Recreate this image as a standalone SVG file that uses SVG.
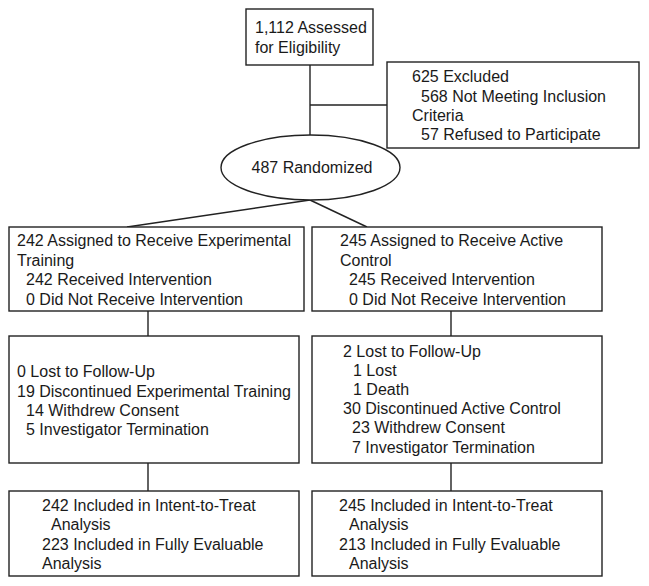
<svg xmlns="http://www.w3.org/2000/svg" width="649" height="586" viewBox="0 0 649 586">
<style>
.box{fill:#fff;stroke:#222;stroke-width:1.4}
.ln{fill:none;stroke:#222;stroke-width:1.4}
text{font-family:"Liberation Sans",Arial,sans-serif;font-size:16px;fill:#1a1a1a}
</style>
<rect width="649" height="586" fill="#fff"/>
<g id="connectors">
<line class="ln" x1="310" y1="65" x2="310" y2="135"/>
<line class="ln" x1="310" y1="105" x2="387" y2="105"/>
<line class="ln" x1="310" y1="200" x2="127" y2="227"/>
<line class="ln" x1="310" y1="200" x2="367" y2="227"/>
<line class="ln" x1="148" y1="311" x2="148" y2="336"/>
<line class="ln" x1="451" y1="311" x2="451" y2="336"/>
<line class="ln" x1="148" y1="463" x2="148" y2="491"/>
<line class="ln" x1="451" y1="463" x2="451" y2="491"/>
</g>
<g id="assessed">
<rect class="box" x="246" y="9" width="127" height="56"/>
<text x="255" y="33">1,112 Assessed</text>
<text x="255" y="53">for Eligibility</text>
</g>
<g id="excluded">
<rect class="box" x="387" y="62" width="252" height="86"/>
<text x="412" y="82">625 Excluded</text>
<text x="421" y="102">568 Not Meeting Inclusion</text>
<text x="412" y="121">Criteria</text>
<text x="421" y="140">57 Refused to Participate</text>
</g>
<g id="randomized">
<ellipse class="box" cx="310.5" cy="167.5" rx="89.5" ry="32.5"/>
<text x="312" y="173" text-anchor="middle">487 Randomized</text>
</g>
<g id="assigned-exp">
<rect class="box" x="9" y="227" width="295" height="84"/>
<text x="17" y="246">242 Assigned to Receive Experimental</text>
<text x="17" y="266">Training</text>
<text x="26" y="285">242 Received Intervention</text>
<text x="26" y="305">0 Did Not Receive Intervention</text>
</g>
<g id="assigned-ctrl">
<rect class="box" x="312" y="227" width="290" height="84"/>
<text x="340" y="246">245 Assigned to Receive Active</text>
<text x="340" y="266">Control</text>
<text x="349" y="285">245 Received Intervention</text>
<text x="349" y="305">0 Did Not Receive Intervention</text>
</g>
<g id="followup-exp">
<rect class="box" x="9" y="336" width="290" height="127"/>
<text x="17" y="377">0 Lost to Follow-Up</text>
<text x="17" y="397">19 Discontinued Experimental Training</text>
<text x="26" y="416">14 Withdrew Consent</text>
<text x="26" y="435">5 Investigator Termination</text>
</g>
<g id="followup-ctrl">
<rect class="box" x="312" y="336" width="290" height="127"/>
<text x="343" y="357">2 Lost to Follow-Up</text>
<text x="353" y="376">1 Lost</text>
<text x="353" y="395">1 Death</text>
<text x="343" y="414">30 Discontinued Active Control</text>
<text x="352" y="433">23 Withdrew Consent</text>
<text x="352" y="453">7 Investigator Termination</text>
</g>
<g id="analysis-exp">
<rect class="box" x="9" y="491" width="290" height="85"/>
<text x="42" y="511">242 Included in Intent-to-Treat</text>
<text x="51" y="530">Analysis</text>
<text x="42" y="550">223 Included in Fully Evaluable</text>
<text x="42" y="569">Analysis</text>
</g>
<g id="analysis-ctrl">
<rect class="box" x="312" y="491" width="290" height="85"/>
<text x="339" y="511">245 Included in Intent-to-Treat</text>
<text x="349" y="530">Analysis</text>
<text x="339" y="550">213 Included in Fully Evaluable</text>
<text x="349" y="569">Analysis</text>
</g>
</svg>
